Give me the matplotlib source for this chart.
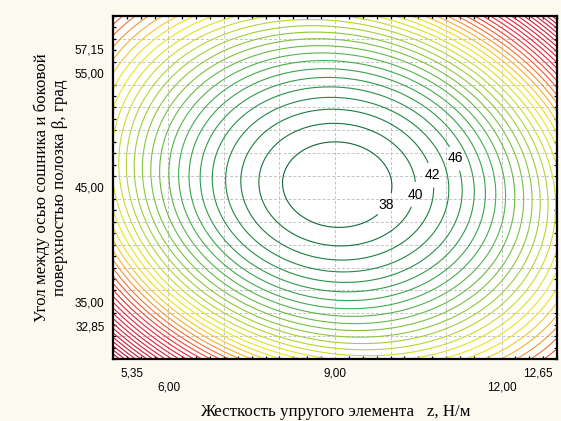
import numpy as np
import matplotlib.pyplot as plt
from matplotlib.colors import LinearSegmentedColormap, Normalize
from matplotlib.ticker import MultipleLocator

# Модель отклика, коэффициенты оценены по графику
z0, b0 = 9.04, 45.25        # центр (минимум поверхности)
y_min = 36.1                # значение в центре
k_zz = 1.96                 # коэффициент при (z - z0)^2
k_bb = 0.136                # коэффициент при (b - b0)^2
k_zb = 0.03                 # взаимодействие (z - z0)(b - b0)
k_z3b = 0.0062              # (z - z0)^3 (b - b0)
k_zb3 = 0.00048             # (z - z0)(b - b0)^3

levels = np.arange(38, 116, 2)
label_levels = [38, 40, 42, 46]
label_pos = [(9.95, 43.4), (10.42, 44.4), (10.75, 46.1), (11.2, 47.6)]

x_ticks = [5.35, 6.00, 9.00, 12.00, 12.65]
x_ticklabels = ['5,35', '\n6,00', '9,00', '\n12,00', '12,65']
y_ticks = [32.85, 35.00, 45.00, 55.00, 57.15]
y_ticklabels = ['32,85', '35,00', '45,00', '55,00', '57,15']
x_grid = [6, 7, 8, 9, 10, 11, 12]
y_grid = list(range(32, 60, 2))

# цвета линий: от тёмно-зелёного к красному
stops = [(36, '#0b5e34'), (44, '#1f8a45'), (52, '#3fae4c'), (60, '#8cc83c'),
         (66, '#c9dc2e'), (71, '#f3e81c'), (76, '#f8b030'), (81, '#f26432'),
         (87, '#e62a3a'), (114, '#b0103a')]
vmin, vmax = stops[0][0], stops[-1][0]
cmap = LinearSegmentedColormap.from_list(
    'stat', [((v - vmin) / (vmax - vmin), c) for v, c in stops])
norm = Normalize(vmin, vmax)

z = np.linspace(5, 13, 300)
b = np.linspace(30, 60, 300)
Z, B = np.meshgrid(z, b)
dz, db = Z - z0, B - b0
F = (y_min + k_zz * dz**2 + k_bb * db**2 + k_zb * dz * db
     + k_z3b * dz**3 * db + k_zb3 * dz * db**3)

fig = plt.figure(figsize=(5.61, 4.21), dpi=100, facecolor='#fcf9f1')
ax = fig.add_axes([0.2014, 0.1473, 0.7915, 0.8147])
ax.set_facecolor('white')

for xv in x_grid:
    ax.axvline(xv, color='#c4c4c4', lw=0.7, ls=(0, (3, 2)), zorder=0)
for yv in y_grid:
    ax.axhline(yv, color='#c4c4c4', lw=0.7, ls=(0, (3, 2)), zorder=0)

# линии без подписей и линии с подписями рисуются отдельно
plain = [v for v in levels if v not in label_levels]
ax.contour(Z, B, F, levels=plain, cmap=cmap, norm=norm, linewidths=0.8)
cs = ax.contour(Z, B, F, levels=label_levels, cmap=cmap, norm=norm,
                linewidths=0.8)
lbl = ax.clabel(cs, manual=label_pos, inline=True, fmt='%d', fontsize=10,
                colors='black', inline_spacing=4)
for t in lbl:
    t.set_family('Liberation Sans')
    t.set_rotation(0)

ax.set_xlim(5, 13)
ax.set_ylim(30, 60)
ax.set_xticks(x_ticks)
ax.set_xticklabels(x_ticklabels)
ax.set_yticks(y_ticks)
ax.set_yticklabels(y_ticklabels)
ax.xaxis.set_minor_locator(MultipleLocator(0.25))
ax.yaxis.set_minor_locator(MultipleLocator(1))
ax.tick_params(which='major', length=0, pad=6, labelsize=8.5)
ax.tick_params(which='minor', direction='in', length=2.5, width=0.9,
               top=True, right=True, bottom=True, left=True)
for lab in ax.get_xticklabels() + ax.get_yticklabels():
    lab.set_family('Liberation Sans')
for sp in ax.spines.values():
    sp.set_linewidth(1.6)

ax.set_xlabel('Жесткость упругого элемента   z, Н/м',
              family='Liberation Serif', fontsize=12.2, labelpad=8)
ax.set_ylabel('Угол между осью сошника и боковой\nповерхностью полозка β, град',
              family='Liberation Serif', fontsize=12.2, labelpad=5)

fig.savefig('out.png', dpi=100, facecolor=fig.get_facecolor())
